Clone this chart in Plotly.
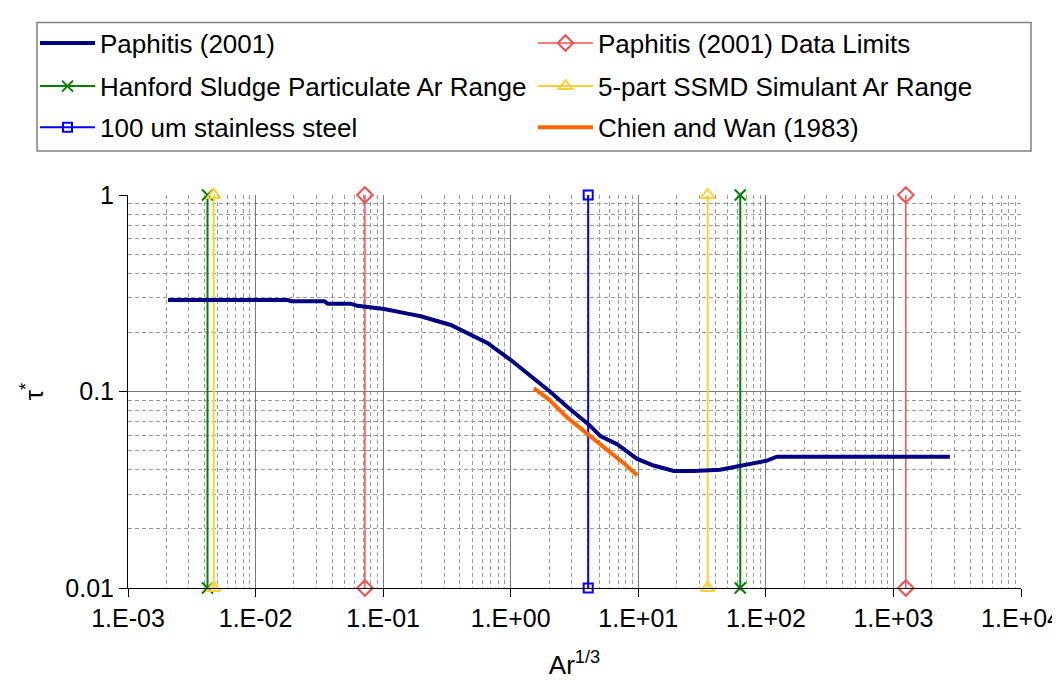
import plotly.graph_objects as go

# Paphitis (2001) curve
paphitis_ar = [0.00206, 0.0179, 0.019, 0.0346, 0.0367, 0.0556, 0.063, 0.080, 0.102,
               0.155, 0.197, 0.339, 0.457, 0.656, 0.997, 1.43, 2.05, 2.77, 4.10,
               5.05, 6.82, 9.79, 13.2, 19.0, 27.2, 43.9, 62.9, 102, 122, 2770]
paphitis_tau = [0.292, 0.292, 0.288, 0.288, 0.280, 0.280, 0.273, 0.269, 0.263,
                0.249, 0.2415, 0.218, 0.198, 0.1766, 0.145, 0.1205, 0.0994, 0.0837, 0.0678,
                0.0593, 0.0539, 0.0454, 0.042, 0.0394, 0.0394, 0.040, 0.042, 0.0445, 0.0466, 0.0466]

# Chien and Wan (1983)
chien_ar = [1.52, 2.0, 2.77, 4.0, 6.0, 8.0, 9.8]
chien_tau = [0.104, 0.091, 0.0738, 0.061, 0.049, 0.0423, 0.0375]

# vertical range markers (Ar^1/3 positions)
data_limits_ar = [0.072, 1250]
hanford_ar = [0.0042, 63]
ssmd_ar = [0.0047, 35]
steel_ar = [4.05]
tau_span = [0.01, 1]

x_tickvals = [1e-3, 1e-2, 1e-1, 1e0, 1e1, 1e2, 1e3, 1e4]
x_ticktext = ['1.E-03', '1.E-02', '1.E-01', '1.E+00', '1.E+01', '1.E+02', '1.E+03', '1.E+04']
y_tickvals = [0.01, 0.1, 1]
y_ticktext = ['0.01', '0.1', '1']

FONT = 'Liberation Sans, Arial, sans-serif'
FS = 26


def vlines(xs):
    x, y = [], []
    for v in xs:
        x += [v, v, None]
        y += [tau_span[0], tau_span[1], None]
    return x, y


fig = go.Figure()

def add_range(xs, name, color, width, symbol, size, legend):
    x, y = vlines(xs)
    fig.add_trace(go.Scatter(
        x=x, y=y, name=name, mode='lines+markers', legend=legend,
        line=dict(color=color, width=width),
        marker=dict(symbol=symbol, size=size, color=color,
                    line=dict(color=color, width=2)),
        cliponaxis=False))

add_range(data_limits_ar, 'Paphitis (2001) Data Limits', '#f05050', 1.5, 'diamond-open', 12, 'legend')
add_range(hanford_ar, 'Hanford Sludge Particulate Ar Range', '#008000', 2, 'x-thin-open', 11, 'legend2')
add_range(ssmd_ar, '5-part SSMD Simulant Ar Range', '#ffd030', 2, 'triangle-up-open', 12, 'legend2')
add_range(steel_ar, '100 um stainless steel', '#0000ff', 2, 'square-open', 9, 'legend3')

fig.add_trace(go.Scatter(x=chien_ar, y=chien_tau, name='Chien and Wan (1983)', mode='lines',
                         legend='legend3', line=dict(color='#ff6600', width=4)))
fig.add_trace(go.Scatter(x=paphitis_ar, y=paphitis_tau, name='Paphitis (2001)', mode='lines',
                         legend='legend', legendrank=1, line=dict(color='#000080', width=4)))

# plot area in pixels: x 120..1013, y 179..580
px0, px1, py0, py1 = 120, 1013, 179, 580
def paper_x(p):
    return (p - px0) / (px1 - px0)
def paper_y(p):
    return (py1 - p) / (py1 - py0)

legend_common = dict(orientation='h', xref='paper', yref='paper', x=paper_x(27),
                     yanchor='middle', xanchor='left', entrywidth=428, entrywidthmode='pixels',
                     itemwidth=55, font=dict(size=FS, family=FONT, color='black'),
                     bgcolor='rgba(0,0,0,0)', borderwidth=0, traceorder='normal')

fig.add_shape(type='rect', xref='paper', yref='paper',
              x0=paper_x(29), x1=paper_x(1023), y0=paper_y(134), y1=paper_y(3),
              line=dict(color='#808080', width=1.5), fillcolor='rgba(0,0,0,0)')

axis_common = dict(type='log', ticks='outside', ticklen=8, tickcolor='black',
                   showline=True, linecolor='black', linewidth=1,
                   showgrid=True, gridcolor='#7a7a7a', gridwidth=1.3,
                   minor=dict(dtick='D1', showgrid=True, gridcolor='#9a9a9a',
                              griddash='4px,3px', gridwidth=1),
                   tickfont=dict(size=25, family=FONT, color='black'),
                   zeroline=False, automargin=False)

fig.update_xaxes(axis_common, range=[-3, 4], tickvals=x_tickvals, ticktext=x_ticktext,
                 title=dict(text='Ar<sup>1/3</sup>', font=dict(size=FS, family=FONT, color='black'),
                            standoff=24))
fig.update_yaxes(axis_common, range=[-2, 0], tickvals=y_tickvals, ticktext=y_ticktext,
                 title=dict(text='τ<sup>*</sup>', font=dict(size=FS, family=FONT, color='black'),
                            standoff=14))

fig.update_layout(
    width=1060, height=684,
    margin=dict(l=px0, r=1060 - px1, t=py0, b=684 - py1),
    paper_bgcolor='white', plot_bgcolor='white',
    font=dict(family=FONT, color='black'),
    legend=dict(legend_common, y=paper_y(24)),
    legend2=dict(legend_common, y=paper_y(68)),
    legend3=dict(legend_common, y=paper_y(110)),
)

fig.write_html('out.html')
